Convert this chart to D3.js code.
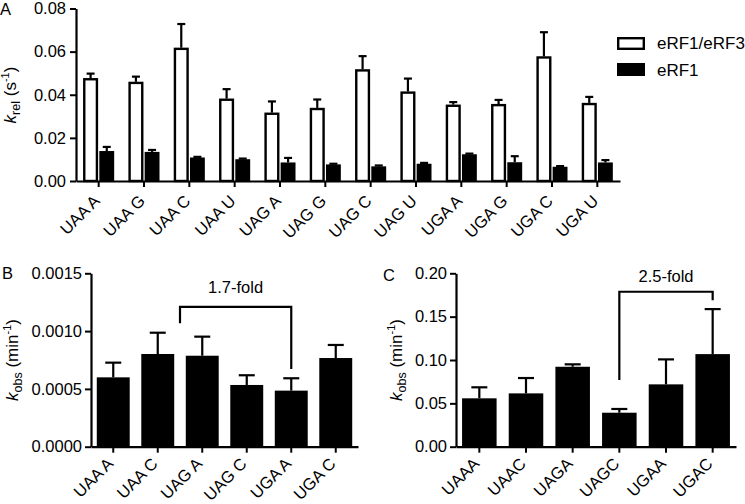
<!DOCTYPE html>
<html><head><meta charset="utf-8">
<script src="https://cdn.jsdelivr.net/npm/d3@7"></script>
<style>
body{margin:0;background:#fff}
svg{font-family:"Liberation Sans",Arial,Helvetica,sans-serif}
</style></head><body>
<svg id="c" width="745" height="504"></svg>
<script>
// ---------- Panel A data ----------
const catsA = ["UAA A","UAA G","UAA C","UAA U","UAG A","UAG G","UAG C","UAG U","UGA A","UGA G","UGA C","UGA U"];
const seriesA = ["eRF1/eRF3","eRF1"];
const rf13 = [0.0477,0.0460,0.0618,0.0382,0.0317,0.0339,0.0518,0.0415,0.0354,0.0357,0.0578,0.0362];
const rf13Err = [0.0021,0.0024,0.0110,0.0044,0.0052,0.0039,0.0061,0.0060,0.0012,0.0019,0.0112,0.0028];
const rf1 = [0.0139,0.0135,0.0109,0.0101,0.0086,0.0077,0.0068,0.0080,0.0124,0.0087,0.0066,0.0086];
const rf1Err = [0.0019,0.0009,0.0003,0.0003,0.0021,0.0003,0.0004,0.0004,0.0003,0.0028,0.0003,0.0011];
const ticksA = [0,0.02,0.04,0.06,0.08];

// ---------- Panel B data ----------
const catsB = ["UAA A","UAA C","UAG A","UAG C","UGA A","UGA C"];
const valsB = [0.000600,0.000802,0.000787,0.000534,0.000485,0.000767];
const errB = [0.000127,0.000184,0.000165,0.000084,0.000107,0.000113];
const ticksB = [0,0.0005,0.0010,0.0015];
const foldB = "1.7-fold";

// ---------- Panel C data ----------
const catsC = ["UAAA","UAAC","UAGA","UAGC","UGAA","UGAC"];
const valsC = [0.0558,0.0615,0.0922,0.0392,0.0719,0.1068];
const errC = [0.0127,0.0177,0.0028,0.0043,0.0288,0.0519];
const ticksC = [0,0.05,0.10,0.15,0.20];
const foldC = "2.5-fold";

const FS = 16.5;
const svg = d3.select("#c");

function styleAxis(g){
  g.selectAll("path.domain").attr("stroke","#000").attr("stroke-width",2.2);
  g.selectAll(".tick line").attr("stroke","#000").attr("stroke-width",2);
  g.selectAll("text").attr("font-size",FS).attr("fill","#000").attr("font-family",'"Liberation Sans",Arial,sans-serif');
}
function rotLabels(g, dx, dy){
  g.selectAll(".tick text").attr("x",0).attr("y",0).attr("dy",0)
   .attr("text-anchor","end").attr("transform",`translate(${dx},${dy}) rotate(-45)`);
}
function yLabel(x, y, sub, unit){
  const t = svg.append("text").attr("transform",`translate(${x},${y}) rotate(-90)`)
    .attr("text-anchor","middle").attr("font-size",FS+0.5).attr("fill","#000");
  t.append("tspan").attr("font-style","italic").text("k");
  t.append("tspan").attr("font-size",12.5).attr("dy",4).text(sub);
  t.append("tspan").attr("dy",-4).text(" (" + unit);
  t.append("tspan").attr("font-size",11).attr("dy",-7).text("-1");
  t.append("tspan").attr("dy",7).text(")");
}
function errBar(g, cx, yTop, yErr, capW){
  g.append("line").attr("x1",cx).attr("x2",cx).attr("y1",yTop).attr("y2",yErr)
   .attr("stroke","#000").attr("stroke-width",2.2);
  g.append("line").attr("x1",cx-capW/2).attr("x2",cx+capW/2).attr("y1",yErr).attr("y2",yErr)
   .attr("stroke","#000").attr("stroke-width",2.2);
}

// ================= Panel A =================
{
  const x0 = d3.scaleBand().domain(catsA).range([76,620]).paddingInner(0.316).paddingOuter(0.158);
  const x1 = d3.scaleBand().domain(seriesA).range([0,x0.bandwidth()]).paddingInner(0.08);
  const y = d3.scaleLinear().domain([0,0.08]).range([181,8.5]);
  const g = svg.append("g");
  const vals = [rf13, rf1], errs = [rf13Err, rf1Err];
  seriesA.forEach((s,si)=>{
    catsA.forEach((c,i)=>{
      const bx = x0(c)+x1(s), bw = x1.bandwidth();
      const cx = bx + bw/2;
      errBar(g, cx, y(vals[si][i]), y(vals[si][i]+errs[si][i]), 8);
      if(si===0){
        g.append("rect").attr("x",bx+1.1).attr("y",y(vals[si][i])+1.1)
         .attr("width",bw-2.2).attr("height",y(0)-y(vals[si][i])-1.1)
         .attr("fill","#fff").attr("stroke","#000").attr("stroke-width",2.4);
      } else {
        g.append("rect").attr("x",bx).attr("y",y(vals[si][i]))
         .attr("width",bw).attr("height",y(0)-y(vals[si][i])).attr("fill","#000");
      }
    });
  });
  const ay = svg.append("g").attr("transform","translate(76,0)")
    .call(d3.axisLeft(y).tickValues(ticksA).tickFormat(d3.format(".2f")).tickSize(6).tickSizeOuter(0).tickPadding(4));
  styleAxis(ay);
  const ax = svg.append("g").attr("transform","translate(0,181)")
    .call(d3.axisBottom(x0).tickSize(6).tickSizeOuter(0));
  styleAxis(ax); rotLabels(ax, 2, 21);
  yLabel(16, 95, "rel", "s");
  svg.append("text").attr("x",0).attr("y",15).attr("font-size",FS).text("A");
  // legend
  const lg = svg.append("g");
  lg.append("rect").attr("x",618.2).attr("y",38.2).attr("width",25.6).attr("height",10.6)
    .attr("fill","#fff").attr("stroke","#000").attr("stroke-width",2.4);
  lg.append("rect").attr("x",617).attr("y",63).attr("width",28).attr("height",13).attr("fill","#000");
  lg.append("text").attr("x",657).attr("y",43).attr("dy","0.35em").attr("font-size",FS+0.5).text(seriesA[0]);
  lg.append("text").attr("x",657).attr("y",70).attr("dy","0.35em").attr("font-size",FS+0.5).text(seriesA[1]);
}

// ================= Panel B / C =================
function panel(cats, vals, errs, ticks, fmt, xr, yDom, axisX, letter, lx, ly, ylx, fold, br){
  const x = d3.scaleBand().domain(cats).range(xr).paddingInner(0.26).paddingOuter(0.13);
  const y = d3.scaleLinear().domain(yDom).range([446.7,273.3]);
  const g = svg.append("g");
  cats.forEach((c,i)=>{
    const cx = x(c)+x.bandwidth()/2;
    errBar(g, cx, y(vals[i]), y(vals[i]+errs[i]), 16);
    g.append("rect").attr("x",x(c)).attr("y",y(vals[i])).attr("width",x.bandwidth())
     .attr("height",y(0)-y(vals[i])).attr("fill","#000");
  });
  const ay = svg.append("g").attr("transform",`translate(${axisX},0)`)
    .call(d3.axisLeft(y).tickValues(ticks).tickFormat(d3.format(fmt)).tickSize(6).tickSizeOuter(0).tickPadding(3));
  styleAxis(ay);
  const ax = svg.append("g").attr("transform","translate(0,446.7)")
    .call(d3.axisBottom(x).tickSize(6).tickSizeOuter(0));
  styleAxis(ax); rotLabels(ax, 1, 18);
  svg.append("text").attr("x",lx).attr("y",ly).attr("font-size",FS).text(letter);
  yLabel(ylx, 360, "obs", "min");
  // bracket
  const cen = c => x(c)+x.bandwidth()/2;
  const xl = br.left.length===2 ? (cen(cats[br.left[0]])+cen(cats[br.left[1]]))/2 : cen(cats[br.left[0]]);
  const xrr = cen(cats[br.right]);
  svg.append("path").attr("d",`M${xl},${y(br.lb)}V${y(br.top)}H${xrr}V${y(br.rb)}`)
    .attr("fill","none").attr("stroke","#000").attr("stroke-width",2.2);
  svg.append("text").attr("x",(xl+xrr)/2).attr("y",y(br.label)).attr("text-anchor","middle")
    .attr("font-size",FS).text(fold);
}
panel(catsB, valsB, errB, ticksB, ".4f", [91,358], [0,0.0015], 91, "B", 2, 279, 18, foldB,
  {left:[1,2], right:4, top:0.00121, lb:0.001067, rb:0.000672, label:0.00133});
panel(catsC, valsC, errC, ticksC, ".2f", [456,736], [0,0.20], 456, "C", 383, 281, 402, foldC,
  {left:[3], right:5, top:0.1787, lb:0.0769, rb:0.169, label:0.19});
</script>
</body></html>
